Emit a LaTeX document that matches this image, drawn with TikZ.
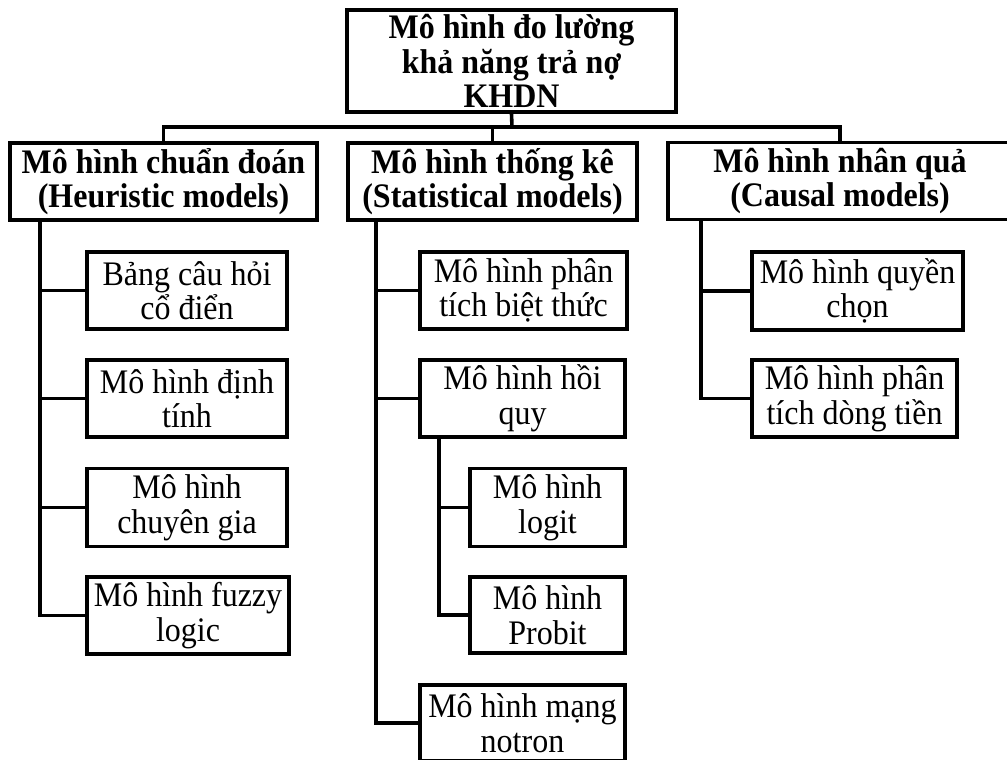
\documentclass[tikz,border=0pt]{standalone}
\usepackage{fontspec}
\setmainfont[FakeStretch=0.93]{Liberation Serif}
\begin{document}
\begin{tikzpicture}[x=1pt,y=-1pt,
  bx/.style={draw, line width=3.6pt, inner sep=0pt, align=center,
    font=\fontsize{34.4}{34.5}\selectfont},
  hd/.style={bx, font=\fontsize{34.4}{34.5}\selectfont\bfseries},
  conn/.style={line width=3.6pt}]
\useasboundingbox (0,0) rectangle (1007,760);
% top
\node[hd, minimum width=329pt, minimum height=102pt] (top) at (511.5,61) {Mô hình đo lường\\khả năng trả nợ\\KHDN};
% level 1
\node[hd, minimum width=307pt, minimum height=77pt] (heur) at (163.5,181.5) {Mô hình chuẩn đoán\\(Heuristic models)};
\node[hd, minimum width=289pt, minimum height=77pt] (stat) at (492.5,181.5) {Mô hình thống kê\\(Statistical models)};
\node[hd, minimum width=344pt, minimum height=77pt] (caus) at (840,181) {Mô hình nhân quả\\(Causal models)};
% heuristic children
\node[bx, minimum width=200pt, minimum height=77pt] (h1) at (187,290.5) {Bảng câu hỏi\\cổ điển};
\node[bx, minimum width=200pt, minimum height=77pt] (h2) at (187,398.5) {Mô hình định\\tính};
\node[bx, minimum width=200pt, minimum height=78pt] (h3) at (187,507.5) {Mô hình\\chuyên gia};
\node[bx, minimum width=202pt, minimum height=77pt] (h4) at (188,615.5) {Mô hình fuzzy\\logic};
% statistical children
\node[bx, minimum width=207pt, minimum height=77pt] (s1) at (523.5,290.5) {Mô hình phân\\tích biệt thức};
\node[bx, minimum width=205pt, minimum height=77pt] (s2) at (522.5,398.5) {Mô hình hồi\\quy};
\node[bx, minimum width=155pt, minimum height=78pt] (s2a) at (547.5,507.5) {Mô hình\\logit};
\node[bx, minimum width=155pt, minimum height=76pt] (s2b) at (547.5,615) {Mô hình\\Probit};
\node[bx, minimum width=205pt, minimum height=76pt] (s3) at (522.5,723) {Mô hình mạng\\notron};
% causal children
\node[bx, minimum width=211pt, minimum height=78pt] (c1) at (857.5,291) {Mô hình quyền\\chọn};
\node[bx, minimum width=205pt, minimum height=77pt] (c2) at (854.5,398.5) {Mô hình phân\\tích dòng tiền};
% top connectors
\coordinate (bus) at (512,127);
\draw[conn] (top.south) -- (bus);
\draw[conn] (heur.north) |- (bus) -| (caus.north);
\draw[conn] (stat.north) |- (bus);
% heuristic spine
\draw[conn] ([xshift=32pt]heur.south west) |- (h4.west);
\draw[conn] ([xshift=32pt]heur.south west) |- (h1.west);
\draw[conn] ([xshift=32pt]heur.south west) |- (h2.west);
\draw[conn] ([xshift=32pt]heur.south west) |- (h3.west);
% statistical spine
\draw[conn] ([xshift=30pt]stat.south west) |- (s3.west);
\draw[conn] ([xshift=30pt]stat.south west) |- (s1.west);
\draw[conn] ([xshift=30pt]stat.south west) |- (s2.west);
\draw[conn] ([xshift=21pt]s2.south west) |- (s2b.west);
\draw[conn] ([xshift=21pt]s2.south west) |- (s2a.west);
% causal spine
\draw[conn] ([xshift=35pt]caus.south west) |- (c2.west);
\draw[conn] ([xshift=35pt]caus.south west) |- (c1.west);
\end{tikzpicture}
\end{document}
